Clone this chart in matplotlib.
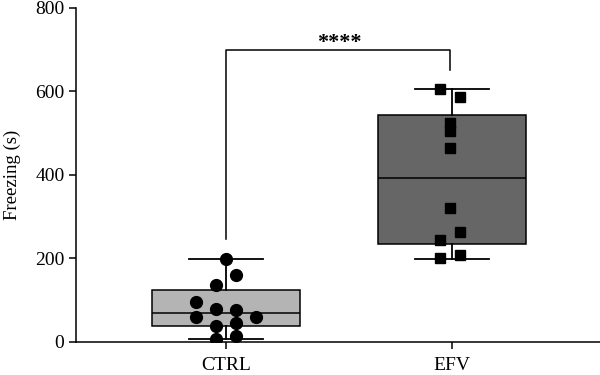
import numpy as np
import matplotlib
matplotlib.use('Agg')
import matplotlib.pyplot as plt

# groups and summary stats
groups = ['CTRL', 'EFV']
q1 = [39, 235]
med = [69, 392]
q3 = [125, 543]
whislo = [8, 199]
whishi = [199, 606]
box_colors = ['#b4b4b4', '#666666']

# individual points (x offset from group centre, value)
ctrl_dx = [0.0, 0.045, -0.045, -0.133, -0.045, 0.045, -0.133, 0.13, -0.045, 0.045, -0.045, 0.045]
ctrl_y = [199, 160, 136, 96, 79, 77, 60, 60, 39, 45, 7, 14]
efv_dx = [-0.053, 0.033, -0.01, -0.01, -0.01, -0.01, 0.033, -0.053, -0.053, 0.033]
efv_y = [606, 587, 525, 505, 464, 320, 264, 244, 200, 208]

sig_text = '****'

plt.rcParams['font.family'] = ['Liberation Serif', 'DejaVu Serif']

fig = plt.figure(figsize=(6, 3.75), dpi=100)
ax = fig.add_axes([0.127, 0.088, 0.873, 0.891])

stats = []
for i, g in enumerate(groups):
    stats.append({'label': g, 'med': med[i], 'q1': q1[i], 'q3': q3[i],
                  'whislo': whislo[i], 'whishi': whishi[i], 'fliers': []})

bp = ax.bxp(stats, positions=[0, 1], widths=0.655, patch_artist=True,
            showfliers=False, capwidths=0.33,
            boxprops=dict(edgecolor='black', linewidth=1.1),
            medianprops=dict(color='black', linewidth=1.1),
            whiskerprops=dict(color='black', linewidth=1.3),
            capprops=dict(color='black', linewidth=1.3), zorder=1)
for patch, c in zip(bp['boxes'], box_colors):
    patch.set_facecolor(c)

ax.plot(0 + np.array(ctrl_dx), ctrl_y, 'o', color='black', markersize=8.5, zorder=3)
ax.plot(1 + np.array(efv_dx), efv_y, 's', color='black', markersize=7.5, zorder=3)

# significance bracket
ax.plot([0, 0, 0.99, 0.99], [247, 699, 699, 651], color='black', linewidth=1.1, zorder=2)
ax.text(0.5, 703, sig_text, ha='center', va='baseline', fontsize=16, fontweight='bold')

ax.set_xlim(-0.664, 1.655)
ax.set_ylim(0, 800)
ax.set_yticks([0, 200, 400, 600, 800])
ax.set_ylabel('Freezing (s)', fontsize=13.5, labelpad=10)
ax.tick_params(axis='both', labelsize=14, length=5, width=1.1, direction='out')
ax.tick_params(axis='x', pad=6)
ax.spines['top'].set_visible(False)
ax.spines['right'].set_visible(False)
for s in ['left', 'bottom']:
    ax.spines[s].set_linewidth(1.1)

fig.savefig('out.png', dpi=100)
